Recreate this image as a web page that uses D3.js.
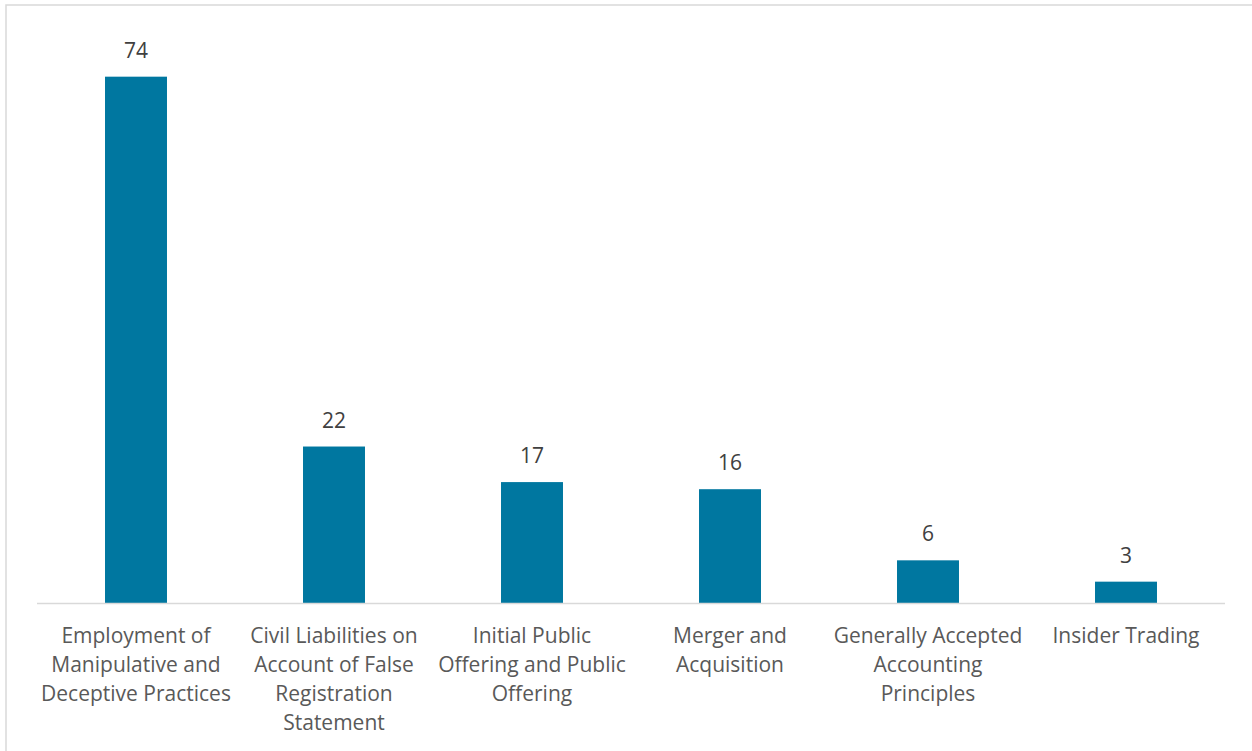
<!DOCTYPE html>
<html>
<head>
<meta charset="utf-8">
<script src="https://cdn.jsdelivr.net/npm/d3@7/dist/d3.min.js"></script>
<style>
html,body{margin:0;padding:0;background:#fff;}
svg{display:block;}
text{font-family:"Open Sans",Lato,sans-serif;}
</style>
</head>
<body>
<svg id="chart" width="1252" height="751"></svg>
<script>
const categories = [
  ["Employment of","Manipulative and","Deceptive Practices"],
  ["Civil Liabilities on","Account of False","Registration","Statement"],
  ["Initial Public","Offering and Public","Offering"],
  ["Merger and","Acquisition"],
  ["Generally Accepted","Accounting","Principles"],
  ["Insider Trading"]
];
const values = [74, 22, 17, 16, 6, 3];
const yDomain = [0, 80];

(function(){
const svg = d3.select("#chart");
const W = 1252, H = 751;
const plotLeft = 37, plotRight = 1225, plotTop = 34, plotBase = 603;

// outer border (top and left visible)
svg.append("rect").attr("x",6).attr("y",5).attr("width",W+10).attr("height",H+10)
  .attr("fill","none").attr("stroke","#d9d9d9").attr("stroke-width",1.5);

const keys = categories.map((c,i)=>i);
const x = d3.scaleBand().domain(keys).range([plotLeft,plotRight]).paddingInner(0.687).paddingOuter(0.3435);
const y = d3.scaleLinear().domain(yDomain).range([plotBase, plotTop]);

svg.selectAll("rect.bar").data(values).enter().append("rect")
  .attr("class","bar")
  .attr("x",(d,i)=>x(i))
  .attr("y",d=>y(d))
  .attr("width",x.bandwidth())
  .attr("height",d=>y(0)-y(d))
  .attr("fill","#0077a0");

// baseline
svg.append("line").attr("x1",plotLeft).attr("x2",plotRight).attr("y1",y(0)+0.5).attr("y2",y(0)+0.5)
  .attr("stroke","#d9d9d9").attr("stroke-width",1.5);

// value labels
svg.selectAll("text.val").data(values).enter().append("text")
  .attr("class","val")
  .attr("x",(d,i)=>x(i)+x.bandwidth()/2)
  .attr("y",d=>y(d)-19)
  .attr("text-anchor","middle")
  .attr("font-size",21)
  .attr("fill","#404040")
  .text(d=>d);

// category labels
const g = svg.selectAll("text.cat").data(categories).enter().append("text")
  .attr("class","cat")
  .attr("text-anchor","middle")
  .attr("font-size",21)
  .attr("fill","#595959");
g.each(function(lines,i){
  const t = d3.select(this);
  lines.forEach((ln,j)=>{
    t.append("tspan").attr("x",x(i)+x.bandwidth()/2).attr("y",plotBase+40+j*29).text(ln);
  });
});
})();
</script>
</body>
</html>
